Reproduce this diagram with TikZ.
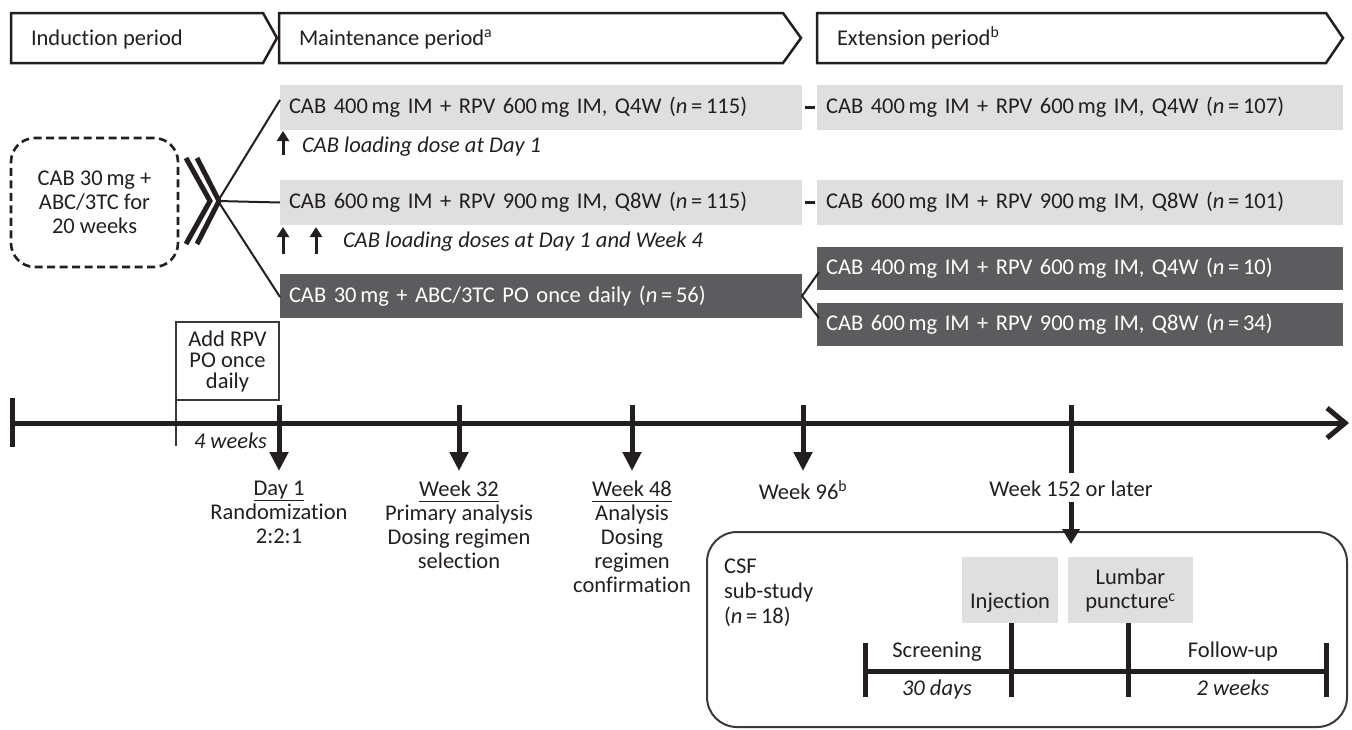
\documentclass[tikz,border=0pt]{standalone}
\usepackage{fontspec}
\setmainfont{Carlito}[Ligatures=NoCommon]
\usetikzlibrary{arrows.meta,calc}
\definecolor{ink}{HTML}{231F20}
\definecolor{lightbox}{HTML}{DFDFDF}
\definecolor{darkbox}{HTML}{5C5C5E}
\definecolor{rimgray}{HTML}{3A3A3A}
\newcommand{\dfont}{\fontsize{22.5}{24}\selectfont}
\newcommand{\ulbl}[1]{\setbox0\hbox{#1}\rlap{\rule[-5pt]{\wd0}{0.9pt}}\box0}
\newcommand{\nn}[1]{(\textit{n}\,=\,#1)}
\begin{document}
\begin{tikzpicture}[x=1pt,y=-1pt,
  every node/.style={inner sep=0pt, outer sep=0pt, text=ink, font=\dfont},
  banner/.style={draw=ink, line width=2.5pt, line join=miter},
  lbox/.style={fill=lightbox, anchor=north west, minimum height=45pt, align=left, inner xsep=9pt},
  dbox/.style={fill=darkbox, text=white, anchor=north west, minimum height=44pt, align=left, inner xsep=9pt},
  dose/.style={anchor=base west, font=\dfont\itshape},
  uparr/.style={draw=ink, line width=3pt, -{Triangle[length=10pt,width=12pt]}},
  downarr/.style={draw=ink, line width=5pt, -{Triangle[length=19pt,width=18pt]}},
  fanline/.style={draw=ink, line width=2pt},
  thickline/.style={draw=ink, line width=5pt},
  lbl/.style={anchor=north, align=center},
]
\useasboundingbox (0,0) rectangle (1352,729);

% ---- period banners
\draw[banner] (11,13) -- (263,13) -- (277,38) -- (263,63) -- (11,63) -- cycle;
\draw[banner] (279,13) -- (783,13) -- (801,38) -- (783,63) -- (279,63) -- cycle;
\draw[banner] (817,13) -- (1326,13) -- (1343,38) -- (1326,63) -- (817,63) -- cycle;
\node[anchor=base west] (tInd) at (31,45) {Induction period};
\node[anchor=base west] (tMain) at (299,45) {Maintenance period\textsuperscript{a}};
\node[anchor=base west] (tExt) at (837,45) {Extension period\textsuperscript{b}};

% ---- regimen boxes
\node[lbox, text width=504pt] (m1) at (280,85) {CAB 400\,mg IM + RPV 600\,mg IM, Q4W \nn{115}};
\node[lbox, text width=508pt] (e1) at (817,85) {CAB 400\,mg IM + RPV 600\,mg IM, Q4W \nn{107}};
\node[lbox, text width=504pt] (m2) at (280,180) {CAB 600\,mg IM + RPV 900\,mg IM, Q8W \nn{115}};
\node[lbox, text width=508pt] (e2) at (817,180) {CAB 600\,mg IM + RPV 900\,mg IM, Q8W \nn{101}};
\node[dbox, text width=504pt] (m3) at (280,274) {CAB 30\,mg + ABC/3TC PO once daily \nn{56}};
\node[dbox, text width=508pt, minimum height=43pt] (ea) at (817,247) {CAB 400\,mg IM + RPV 600\,mg IM, Q4W \nn{10}};
\node[dbox, text width=508pt, minimum height=43pt] (eb) at (817,303) {CAB 600\,mg IM + RPV 900\,mg IM, Q8W \nn{34}};

\draw[ink, line width=2.5pt] ($(m1.east)+(3,0)$) -- ($(e1.west)+(-2,0)$);
\draw[ink, line width=2.5pt] ($(m2.east)+(3,0)$) -- ($(e2.west)+(-2,0)$);
\draw[fanline, line join=miter] ($(ea.south west)+(2,-18)$) -- (m3.east) -- ($(eb.north west)+(2,15)$);

% ---- loading doses
\coordinate (u1a) at (283,155); \coordinate (u1b) at (283,131);
\coordinate (u2a) at (283,254); \coordinate (u2b) at (283,227);
\coordinate (u3a) at (316,254); \coordinate (u3b) at (316,227);
\draw[uparr] (u1a) -- (u1b);
\draw[uparr] (u2a) -- (u2b);
\draw[uparr] (u3a) -- (u3b);
\node[dose] (ld1) at (302,152) {CAB loading dose at Day 1};
\node[dose] (ld2) at (343,247) {CAB loading doses at Day 1 and Week 4};

% ---- induction box, chevrons and fan
\node[draw=ink, line width=2.6pt, dash pattern=on 8pt off 4.5pt, rounded corners=24pt,
      anchor=north west, minimum width=167pt, minimum height=129pt, align=center] (ind) at (11,138)
      {CAB 30\,mg +\\ABC/3TC for\\20 weeks};
\draw[thickline, line width=5pt, line join=miter] (186,158) -- (210,201) -- (186,244);
\draw[thickline, line width=5pt, line join=miter] (197,158) -- (219,201) -- (197,244);
\coordinate (fan) at (218,201);
\draw[fanline] (fan) -- ($(m1.north west)+(0,15)$);
\draw[fanline] (fan) -- (m2.west);
\draw[fanline] (fan) -- ($(m3.north west)+(0,23)$);

% ---- add RPV box
\node[draw=rimgray, line width=1.5pt, anchor=north west, minimum width=103pt, minimum height=78pt,
      align=center, font=\fontsize{22.5}{21}\selectfont] (addrpv) at (176,322) {Add RPV\\PO once\\daily};
\coordinate (thinend) at (176,446);
\draw[rimgray, line width=1.1pt] (addrpv.south west) -- (thinend);
\node[anchor=base west, font=\dfont\itshape] (fourw) at (194,448) {4 weeks};

% ---- main timeline
\coordinate (tl0) at (12,423);
\coordinate (tlend) at (1349,423);
\draw[thickline, -{Straight Barb[length=18pt,width=30pt]}] (tl0) -- (tlend);
\draw[thickline] (12,398) -- (12,447);

\coordinate (a1) at (279,405); \coordinate (b1) at (279,471);
\coordinate (a2) at (459,405); \coordinate (b2) at (459,471);
\coordinate (a3) at (632,405); \coordinate (b3) at (632,471);
\coordinate (a4) at (803,405); \coordinate (b4) at (803,471);
\coordinate (a5) at (1071,405); \coordinate (b5) at (1071,473);
\draw[downarr] (a1) -- (b1);
\draw[downarr] (a2) -- (b2);
\draw[downarr] (a3) -- (b3);
\draw[downarr] (a4) -- (b4);
\draw[thickline] (a5) -- (b5);

\node[lbl] (lday) at (279,481) {\ulbl{Day 1}\\Randomization\\2:2:1};
\node[lbl] (lw32) at (459,481) {\ulbl{Week 32}\\Primary analysis\\Dosing regimen\\selection};
\node[lbl] (lw48) at (632,481) {\ulbl{Week 48}\\Analysis\\Dosing\\regimen\\confirmation};
\node[lbl] (lw96) at (803,481) {Week 96\textsuperscript{b}};
\node[lbl] (lw152) at (1071,481) {Week 152 or later};

% ---- CSF sub-study
\node[draw=rimgray, line width=2pt, rounded corners=30pt, anchor=north west,
      minimum width=640pt, minimum height=195pt] (csfbox) at (707,532) {};
\coordinate (c152a) at (1071,502);
\coordinate (c152b) at (1071,544);
\draw[downarr, -{Triangle[length=15pt,width=17pt]}] (c152a) -- (c152b);
\node[anchor=north west, align=left, font=\fontsize{22.5}{25}\selectfont] (csft) at (724,559) {CSF\\sub-study\\\nn{18}};

\node[fill=lightbox, anchor=north west, minimum width=96pt, minimum height=66pt, align=center] (inj) at (962,557) {\strut\\Injection};
\node[fill=lightbox, anchor=north west, minimum width=125pt, minimum height=66pt, align=center] (lum) at (1068,557) {\strut Lumbar\\puncture\textsuperscript{c}};

\coordinate (s0) at (865,671);
\coordinate (s3) at (1326,671);
\draw[thickline] (s0) -- (s3);
\draw[thickline] (865,643) -- (865,697);
\draw[thickline] (1326,643) -- (1326,697);
\draw[thickline] (1011,623) -- (1011,697);
\draw[thickline] (1128,623) -- (1128,697);
\node[anchor=base] (scr) at (937,657) {Screening};
\node[anchor=base, font=\dfont\itshape] (d30) at (937,695) {30 days};
\node[anchor=base] (fup) at (1233,657) {Follow-up};
\node[anchor=base, font=\dfont\itshape] (w2) at (1233,695) {2 weeks};
\end{tikzpicture}
\end{document}
